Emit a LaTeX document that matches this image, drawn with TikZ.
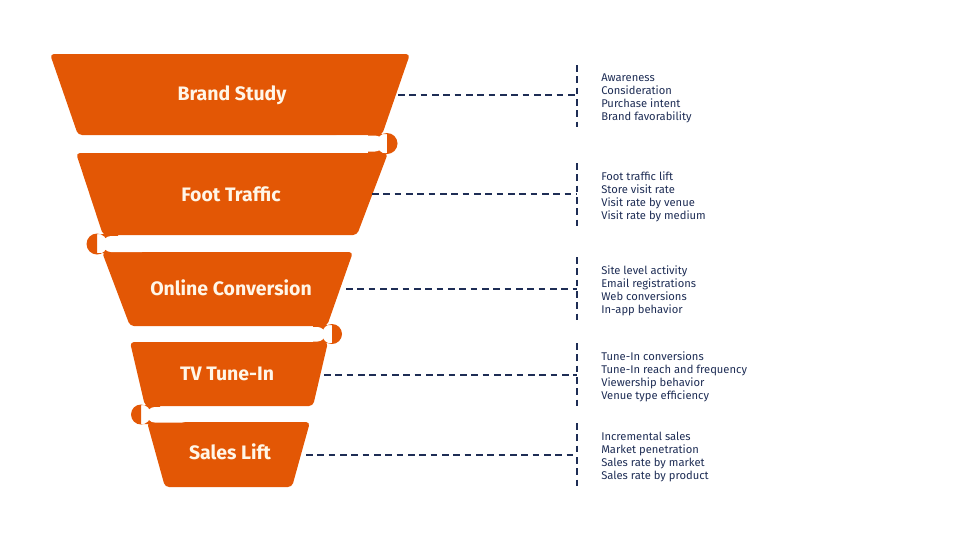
\documentclass[tikz,border=0pt]{standalone}
\usepackage{fontspec}
\setmainfont{Fira Sans}
\usepackage{tikz}
\definecolor{funnel}{RGB}{227,87,5}
\definecolor{navy}{RGB}{30,45,85}
\definecolor{cream}{RGB}{255,246,232}
\begin{document}
\begin{tikzpicture}[x=0.75pt,y=-0.75pt,stage/.style={fill=funnel,rounded corners=3pt},
	lbl/.style={text=cream,font=\bfseries\fontsize{14.6}{17}\selectfont},
	items/.style={anchor=west,align=left,inner sep=0pt,text=navy,font=\fontsize{8.4}{9.75}\selectfont},
	link/.style={navy,line width=1.5pt,dash pattern=on 5pt off 3.5pt}]
	\useasboundingbox (0,0) rectangle (960,540);
	% funnel stages
	\fill[stage] (50,54) -- (410,54) -- (382,135) -- (78,135) -- cycle;
	\fill[stage] (76,153) -- (388,153) -- (357,235) -- (103,235) -- cycle;
	\fill[stage] (102,252) -- (353,252) -- (327,326) -- (130,326) -- cycle;
	\fill[stage] (130,342) -- (328,342) -- (313,406) -- (145,406) -- cycle;
	\fill[stage] (147,422) -- (310,422) -- (292,487) -- (165,487) -- cycle;
	% folds between the stages
	\fill[funnel] (368,134) rectangle (387,153) (387,143.5) circle (10.5);
	\fill[white,rounded corners=6pt] (330,135.5) rectangle (383,151.5);
	\fill[funnel] (97,234) rectangle (118,253) (97,244) circle (10.5);
	\fill[white,rounded corners=6pt] (103,236) rectangle (150,252);
	\fill[funnel] (313,325) rectangle (332,343) (332,334) circle (10);
	\fill[white,rounded corners=5.6pt] (280,327) rectangle (325,341.5);
	\fill[funnel] (141,405) rectangle (160,424) (141,414.5) circle (10);
	\fill[white,rounded corners=5.8pt] (147,407) rectangle (190,422.5);
	% stage names
	\node[lbl] (bs) at (232,95) {Brand Study};
	\node[lbl] (ft) at (231,194) {Foot Traffic};
	\node[lbl] (oc) at (231,288) {Online Conversion};
	\node[lbl] (tv) at (227,374) {TV Tune-In};
	\node[lbl] (sl) at (230,452) {Sales Lift};
	% metric lists
	\node[items] (bs-list) at (601,98.5) {Awareness\\Consideration\\Purchase intent\\Brand favorability};
	\node[items] (ft-list) at (601,196.5) {Foot traffic lift\\Store visit rate\\Visit rate by venue\\Visit rate by medium};
	\node[items] (oc-list) at (601,290.5) {Site level activity\\Email registrations\\Web conversions\\In-app behavior};
	\node[items] (tv-list) at (601,376.5) {Tune-In conversions\\Tune-In reach and frequency\\Viewership behavior\\Venue type efficiency};
	\node[items] (sl-list) at (601,456.5) {Incremental sales\\Market penetration\\Sales rate by market\\Sales rate by product};
	% brackets
	\coordinate (bs-top) at (577,65);  \coordinate (bs-bot) at (577,127);
	\coordinate (ft-top) at (577,163); \coordinate (ft-bot) at (577,227);
	\coordinate (oc-top) at (577,257); \coordinate (oc-bot) at (577,321);
	\coordinate (tv-top) at (577,343); \coordinate (tv-bot) at (577,406);
	\coordinate (sl-top) at (577,423); \coordinate (sl-bot) at (577,486);
	\draw[link] (bs-top) -- (bs-bot);
	\draw[link] (ft-top) -- (ft-bot);
	\draw[link] (oc-top) -- (oc-bot);
	\draw[link] (tv-top) -- (tv-bot);
	\draw[link] (sl-top) -- (sl-bot);
	% leaders
	\coordinate (bs-e) at (398,95);  \coordinate (bs-v) at (577,95);
	\coordinate (ft-e) at (372,194); \coordinate (ft-v) at (577,194);
	\coordinate (oc-e) at (346,289); \coordinate (oc-v) at (577,289);
	\coordinate (tv-e) at (324,375); \coordinate (tv-v) at (577,375);
	\coordinate (sl-e) at (306,455); \coordinate (sl-v) at (577,455);
	\draw[link] (bs-e) -- (bs-v);
	\draw[link] (ft-e) -- (ft-v);
	\draw[link] (oc-e) -- (oc-v);
	\draw[link] (tv-e) -- (tv-v);
	\draw[link] (sl-e) -- (sl-v);
\end{tikzpicture}
\end{document}
